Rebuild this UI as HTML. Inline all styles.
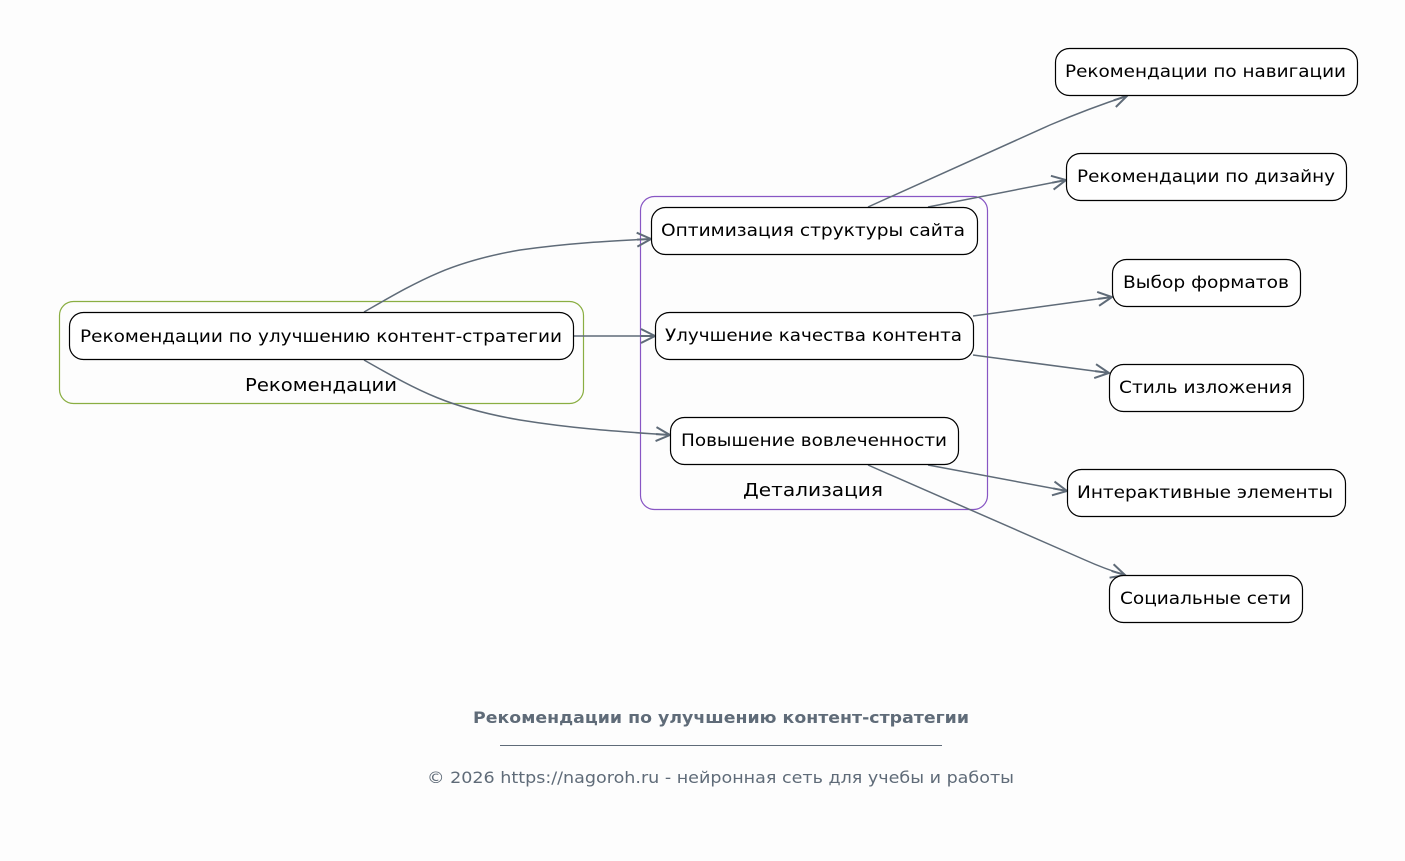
<!DOCTYPE html>
<html><head><meta charset="utf-8"><style>
html,body{margin:0;padding:0;background:#fdfdfd;}
svg{display:block;font-family:"DejaVu Sans","Liberation Sans",sans-serif;}
</style></head><body>
<svg width="1405" height="861" viewBox="0 0 1405 861" xmlns="http://www.w3.org/2000/svg">
<defs>
<marker id="a" viewBox="0 0 20 20" refX="18" refY="10" markerWidth="20" markerHeight="20" markerUnits="userSpaceOnUse" orient="auto">
<polyline points="4,3 18,10 4,17" fill="none" stroke="#5f6b78" stroke-width="2"/>
<line x1="4" y1="10" x2="18" y2="10" stroke="#5f6b78" stroke-width="2"/>
</marker>
</defs>
<rect width="1405" height="861" fill="#fdfdfd"/>
<rect x="59.5" y="301.5" width="524" height="102" rx="14" fill="none" stroke="#8aae42" stroke-width="1.2"/>
<text x="321" y="391" font-size="18" text-anchor="middle" textLength="152" lengthAdjust="spacingAndGlyphs">Рекомендации</text>
<rect x="640.5" y="196.5" width="347" height="313" rx="14" fill="none" stroke="#8856c4" stroke-width="1.2"/>
<text x="813" y="496" font-size="18" text-anchor="middle" textLength="140" lengthAdjust="spacingAndGlyphs">Детализация</text>

<g fill="none" stroke="#5f6b78" stroke-width="1.5" marker-end="url(#a)">
<path d="M364,312 C420,280 450,262 520,250 C570,243 610,241 651,239"/>
<path d="M573,336 L655,336"/>
<path d="M364,360 C420,392 450,408 520,420 C570,428 610,431 670,435"/>
<path d="M868,207 L1050,125 Q1090,108 1127,96"/>
<path d="M928,207 L1066,180"/>
<path d="M973,316 L1112,297"/>
<path d="M973,355 L1109,373"/>
<path d="M928,465 L1067,491"/>
<path d="M868,465 L1085,560 Q1105,569 1125,575"/>
</g>

<g fill="#fff" stroke="#000" stroke-width="1.2">
<rect x="69.5" y="312.5" width="504" height="47" rx="14"/>
<rect x="651.5" y="207.5" width="326" height="47" rx="14"/>
<rect x="655.5" y="312.5" width="318" height="47" rx="14"/>
<rect x="670.5" y="417.5" width="288" height="47" rx="14"/>
<rect x="1055.5" y="48.5" width="302" height="47" rx="14"/>
<rect x="1066.5" y="153.5" width="280" height="47" rx="14"/>
<rect x="1112.5" y="259.5" width="188" height="47" rx="14"/>
<rect x="1109.5" y="364.5" width="194" height="47" rx="14"/>
<rect x="1067.5" y="469.5" width="278" height="47" rx="14"/>
<rect x="1109.5" y="575.5" width="193" height="47" rx="14"/>
</g>
<g font-size="17" text-anchor="middle" fill="#000" lengthAdjust="spacingAndGlyphs">
<text x="321" y="342" textLength="482" lengthAdjust="spacingAndGlyphs">Рекомендации по улучшению контент-стратегии</text>
<text x="813" y="236" textLength="304" lengthAdjust="spacingAndGlyphs">Оптимизация структуры сайта</text>
<text x="813.5" y="341" textLength="297" lengthAdjust="spacingAndGlyphs">Улучшение качества контента</text>
<text x="814" y="446" textLength="266" lengthAdjust="spacingAndGlyphs">Повышение вовлеченности</text>
<text x="1205.5" y="77" textLength="281" lengthAdjust="spacingAndGlyphs">Рекомендации по навигации</text>
<text x="1206" y="182" textLength="258" lengthAdjust="spacingAndGlyphs">Рекомендации по дизайну</text>
<text x="1206" y="288" textLength="166" lengthAdjust="spacingAndGlyphs">Выбор форматов</text>
<text x="1205.5" y="393" textLength="173" lengthAdjust="spacingAndGlyphs">Стиль изложения</text>
<text x="1205" y="498" textLength="256" lengthAdjust="spacingAndGlyphs">Интерактивные элементы</text>
<text x="1205.5" y="604" textLength="171" lengthAdjust="spacingAndGlyphs">Социальные сети</text>
</g>
<text x="721" y="723" font-size="16" font-weight="bold" fill="#5f6b78" text-anchor="middle" textLength="496" lengthAdjust="spacingAndGlyphs">Рекомендации по улучшению контент-стратегии</text>
<line x1="500" y1="745.5" x2="942" y2="745.5" stroke="#5f6b78" stroke-width="1"/>
<text x="720.5" y="783" font-size="16" fill="#5f6b78" text-anchor="middle" textLength="587" lengthAdjust="spacingAndGlyphs">© 2026 https://nagoroh.ru - нейронная сеть для учебы и работы</text>
</svg>
</body></html>
